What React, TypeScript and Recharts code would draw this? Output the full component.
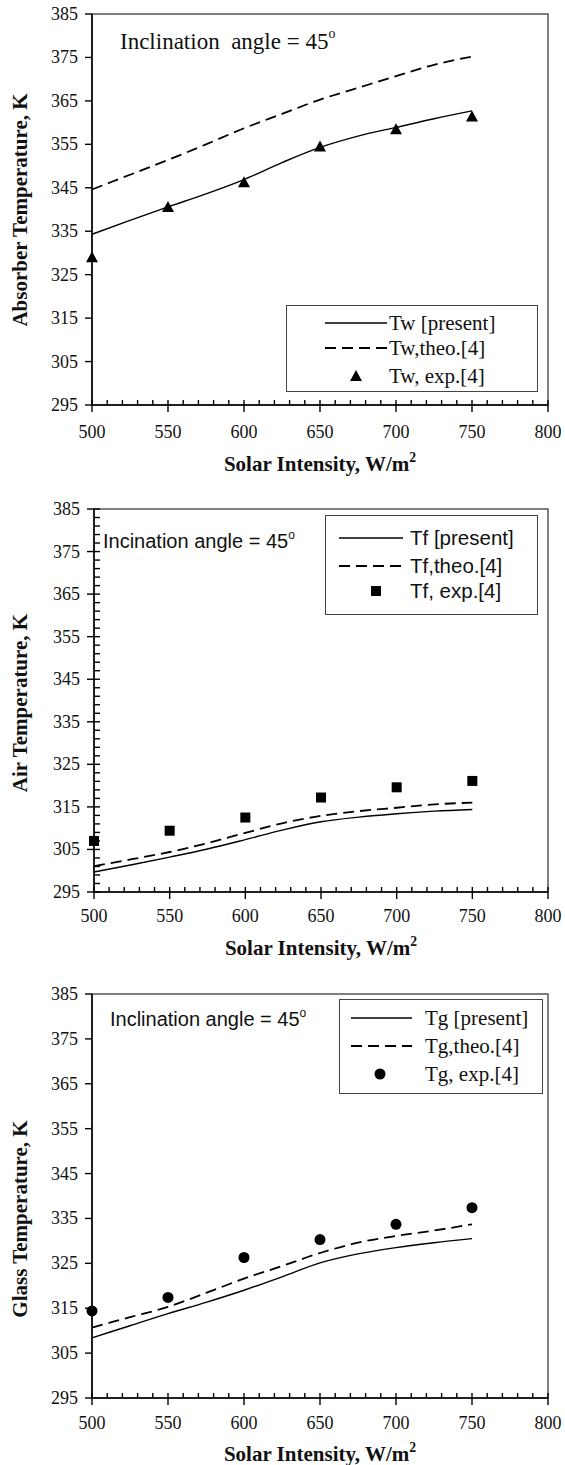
import React from 'react';
import { ComposedChart, Line, Scatter, XAxis, YAxis, ReferenceArea, Legend } from 'recharts';

// solar intensity, W/m2
const intensity = [500, 525, 550, 575, 600, 625, 650, 675, 700, 725, 750];
const expIntensity = [500, 550, 600, 650, 700, 750];

// absorber temperature, K
const twPresent = [334.3, 337.5, 340.6, 343.6, 346.9, 350.8, 354.3, 356.9, 358.9, 360.9, 362.7];
const twTheo = [344.6, 348.0, 351.4, 355.0, 358.7, 362.0, 365.3, 368.0, 370.7, 373.3, 375.2];
const twExp = [329.0, 340.6, 346.3, 354.5, 358.5, 361.4];

// air temperature, K
const tfPresent = [299.7, 301.4, 303.2, 305.1, 307.3, 309.6, 311.5, 312.6, 313.4, 314.0, 314.4];
const tfTheo = [301.1, 302.7, 304.4, 306.5, 308.9, 311.2, 312.9, 314.0, 314.8, 315.6, 316.0];
const tfExp = [307.0, 309.4, 312.5, 317.2, 319.6, 321.1];

// glass temperature, K
const tgPresent = [308.4, 311.1, 313.8, 316.3, 319.0, 322.0, 325.1, 327.1, 328.5, 329.6, 330.5];
const tgTheo = [310.7, 313.0, 315.3, 318.4, 321.6, 324.4, 327.3, 329.6, 331.1, 332.3, 333.7];
const tgExp = [314.4, 317.4, 326.3, 330.3, 333.7, 337.4];

const xMajorTicks = [500, 550, 600, 650, 700, 750, 800];
const yMajorTicks = [295, 305, 315, 325, 335, 345, 355, 365, 375, 385];

const SERIF = '"Liberation Serif", "Times New Roman", serif';
const SANS = '"Liberation Sans", Arial, sans-serif';

// minor ticks: every 10 on x, every 2 on the air-temperature y axis
const xTicksAll: number[] = [];
for (let v = 500; v <= 800; v += 10) xTicksAll.push(v);
const yTicksMinor: number[] = [];
for (let v = 295; v <= 385; v += 2) yTicksMinor.push(v);

const toPoints = (xs: number[], ys: number[]) => xs.map((x, i) => ({ x, y: ys[i] }));

const XTick = (props: any) => {
  const { x, payload, labelOffset, axisY } = props;
  const major = xMajorTicks.includes(payload.value);
  const y = axisY;
  return (
    <g>
      <line x1={x} x2={x} y1={y - 5} y2={major ? y + 7 : y} stroke="#000" strokeWidth={1.4} />
      {major && (
        <text x={x} y={y + labelOffset} textAnchor="middle" dominantBaseline="central"
          fontFamily={SERIF} fontSize={18} fill="#111">
          {payload.value}
        </text>
      )}
    </g>
  );
};

const YTick = (props: any) => {
  const { y, payload, minor, axisX } = props;
  const major = yMajorTicks.includes(payload.value);
  const x = axisX;
  return (
    <g>
      <line x1={major ? x - 7 : x} x2={minor ? x + 6 : x} y1={y} y2={y} stroke="#000" strokeWidth={1.4} />
      {major && (
        <text x={x - 14} y={y} textAnchor="end" dominantBaseline="central"
          fontFamily={SERIF} fontSize={18} fill="#111">
          {payload.value}
        </text>
      )}
    </g>
  );
};

const Marker = ({ kind }: { kind: string }) => {
  if (kind === 'triangle') return <polygon points="-6,5 6,5 0,-6" fill="#000" />;
  if (kind === 'square') return <rect x={-5} y={-5} width={10} height={10} fill="#000" />;
  return <circle r={5.5} fill="#000" />;
};

const makeShape = (kind: string) => (props: any) => (
  <g transform={`translate(${props.cx},${props.cy})`}>
    <Marker kind={kind} />
  </g>
);

const LegendBox = ({ cfg }: { cfg: any }) => {
  const lg = cfg.legend;
  const rows = [
    { label: cfg.labels[0], type: 'solid' },
    { label: cfg.labels[1], type: 'dash' },
    { label: cfg.labels[2], type: 'marker' },
  ];
  return (
    <div style={{ position: 'relative', width: lg.width, height: lg.height, border: '1.5px solid #444',
      boxSizing: 'border-box', background: '#fff', fontFamily: lg.font, fontSize: lg.fontSize, color: '#111' }}>
      {rows.map((r, i) => (
        <div key={i} style={{ position: 'absolute', left: 0, top: lg.rows[i] - 14, height: 28, width: '100%' }}>
          <svg width={lg.textX} height={28} style={{ position: 'absolute', left: 0, top: 0 }}>
            {r.type === 'solid' && <line x1={lg.lineX[0]} x2={lg.lineX[1]} y1={14} y2={14} stroke="#000" strokeWidth={1.5} />}
            {r.type === 'dash' && <line x1={lg.lineX[0]} x2={lg.lineX[1]} y1={14} y2={14} stroke="#000" strokeWidth={1.8} strokeDasharray="11 6" />}
            {r.type === 'marker' && <g transform={`translate(${lg.markerX},14)`}><Marker kind={cfg.marker} /></g>}
          </svg>
          <span style={{ position: 'absolute', left: lg.textX, top: 0, lineHeight: '28px', whiteSpace: 'nowrap' }}>{r.label}</span>
        </div>
      ))}
    </div>
  );
};

const panels = [
  {
    top: 0, height: 480, margin: { top: 14, right: 17, bottom: 35, left: 32 },
    present: twPresent, theo: twTheo, exp: twExp, marker: 'triangle', yMinor: false, xLabelOffset: 27,
    labels: ['Tw [present]', 'Tw,theo.[4]', 'Tw, exp.[4]'],
    legend: { left: 286, top: 305, width: 252, height: 87, rows: [17, 42, 70], lineX: [38, 100], textX: 102, markerX: 69, font: SERIF, fontSize: 21 },
    note: { text: 'Inclination\u00a0 angle = 45', left: 120, top: 40, font: SERIF, size: 23 },
    yTitle: { text: 'Absorber Temperature, K', cy: 210 },
    xTitleY: 463,
  },
  {
    top: 480, height: 480, margin: { top: 29, right: 17, bottom: 28, left: 34 },
    present: tfPresent, theo: tfTheo, exp: tfExp, marker: 'square', yMinor: true, xLabelOffset: 24,
    labels: ['Tf [present]', 'Tf,theo.[4]', 'Tf, exp.[4]'],
    legend: { left: 325, top: 35, width: 213, height: 100, rows: [22, 50, 75], lineX: [13, 77], textX: 84, markerX: 50, font: SANS, fontSize: 20.5 },
    note: { text: 'Incination angle = 45', left: 103, top: 540 - 480, font: SANS, size: 20 },
    yTitle: { text: 'Air Temperature, K', cy: 703 - 480 },
    xTitleY: 947 - 480,
  },
  {
    top: 960, height: 505, margin: { top: 34, right: 17, bottom: 27, left: 32 },
    present: tgPresent, theo: tgTheo, exp: tgExp, marker: 'circle', yMinor: false, xLabelOffset: 25,
    labels: ['Tg [present]', 'Tg,theo.[4]', 'Tg, exp.[4]'],
    legend: { left: 339, top: 39, width: 204, height: 95, rows: [18, 46, 74], lineX: [11, 72], textX: 85, markerX: 40, font: SERIF, fontSize: 21 },
    note: { text: 'Inclination angle = 45', left: 110, top: 1018 - 960, font: SANS, size: 20 },
    yTitle: { text: 'Glass Temperature, K', cy: 1219 - 960 },
    xTitleY: 1453 - 960,
  },
];

const Panel = ({ cfg }: { cfg: any }) => {
  const plotLeft = cfg.margin.left + 60;
  const plotRight = 565 - cfg.margin.right;
  const plotBottom = cfg.height - cfg.margin.bottom - 40;
  return (
    <div style={{ position: 'absolute', left: 0, top: cfg.top, width: 565, height: cfg.height }}>
      <ComposedChart width={565} height={cfg.height} margin={cfg.margin}>
        <XAxis type="number" dataKey="x" domain={[500, 800]} ticks={xTicksAll} interval={0}
          height={40} tickSize={0} tickMargin={0} tickLine={false}
          axisLine={{ stroke: '#000', strokeWidth: 1.5 }}
          tick={<XTick labelOffset={cfg.xLabelOffset} axisY={plotBottom} />} />
        <YAxis type="number" domain={[295, 385]} ticks={cfg.yMinor ? yTicksMinor : yMajorTicks} interval={0}
          width={60} tickSize={0} tickMargin={0} tickLine={false}
          axisLine={{ stroke: '#000', strokeWidth: 1.5 }}
          tick={<YTick minor={cfg.yMinor} axisX={plotLeft} />} />
        <ReferenceArea x1={500} x2={800} y1={295} y2={385} fill="none" stroke="#555" strokeWidth={1.5} ifOverflow="visible" />
        <Line data={toPoints(intensity, cfg.present)} dataKey="y" type="monotone" stroke="#000" strokeWidth={1.4}
          dot={false} activeDot={false} isAnimationActive={false} />
        <Line data={toPoints(intensity, cfg.theo)} dataKey="y" type="monotone" stroke="#000" strokeWidth={1.8}
          strokeDasharray="11 6" dot={false} activeDot={false} isAnimationActive={false} />
        <Scatter data={toPoints(expIntensity, cfg.exp)} dataKey="y" shape={makeShape(cfg.marker)} isAnimationActive={false} />
        <Legend layout="vertical" align="center" verticalAlign="middle"
          wrapperStyle={{ left: cfg.legend.left, top: cfg.legend.top, width: cfg.legend.width, height: cfg.legend.height }}
          content={() => <LegendBox cfg={cfg} />} />
      </ComposedChart>
      <div style={{ position: 'absolute', left: cfg.note.left, top: cfg.note.top, transform: 'translateY(-50%)',
        fontFamily: cfg.note.font, fontSize: cfg.note.size, color: '#111', whiteSpace: 'pre', lineHeight: 1 }}>
        {cfg.note.text}<sup style={{ fontSize: '0.6em', verticalAlign: '0.75em' }}>o</sup>
      </div>
      <div style={{ position: 'absolute', left: 20, top: cfg.yTitle.cy, transform: 'translate(-50%, -50%) rotate(-90deg)',
        fontFamily: SERIF, fontWeight: 'bold', fontSize: 21, color: '#111', whiteSpace: 'nowrap', lineHeight: 1 }}>
        {cfg.yTitle.text}
      </div>
      <div style={{ position: 'absolute', left: (plotLeft + plotRight) / 2, top: cfg.xTitleY, transform: 'translate(-50%, -50%)',
        fontFamily: SERIF, fontWeight: 'bold', fontSize: 21, color: '#111', whiteSpace: 'nowrap', lineHeight: 1 }}>
        Solar Intensity, W/m<sup style={{ fontSize: '0.65em', verticalAlign: '0.6em' }}>2</sup>
      </div>
    </div>
  );
};

export default function App() {
  return (
    <div style={{ position: 'absolute', left: 0, top: 0, width: 565, height: 1465, background: '#fff' }}>
      {panels.map((p, i) => <Panel key={i} cfg={p} />)}
    </div>
  );
}
